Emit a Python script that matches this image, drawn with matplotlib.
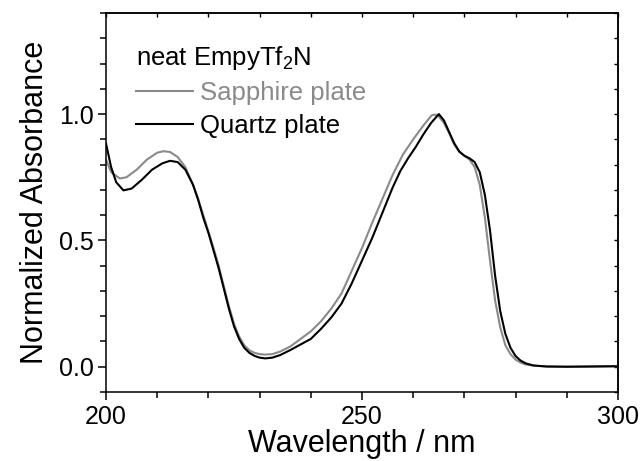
import matplotlib
matplotlib.use("Agg")
import matplotlib.pyplot as plt
from matplotlib.ticker import MultipleLocator

plt.rcParams['font.family'] = ['Liberation Sans', 'DejaVu Sans']
plt.rcParams['mathtext.default'] = 'regular'

# Quartz plate (black)
wl_quartz = [200.0, 201.0, 202.0, 203.4, 205.0, 207.0, 209.0, 211.0, 212.5, 214.0,
             215.5, 217.0, 218.0, 219.0, 220.0, 221.0, 222.0, 223.0, 224.0, 225.0,
             226.0, 227.0, 228.0, 229.0, 230.0, 231.1, 232.5, 234.0, 236.0, 238.0,
             240.0, 242.0, 244.0, 246.0, 248.0, 250.0, 252.0, 254.0, 256.0, 257.5,
             259.0, 260.5, 262.0, 263.5, 265.0, 266.0, 267.0, 268.0, 269.0, 270.0,
             271.0, 272.0, 273.0, 274.0, 275.0, 276.0, 277.0, 278.0, 279.0, 280.0,
             281.0, 282.0, 283.5, 286.0, 290.0, 295.0, 300.0]
abs_quartz = [0.884, 0.79, 0.73, 0.698, 0.705, 0.74, 0.78, 0.805, 0.815, 0.81,
              0.78, 0.72, 0.66, 0.59, 0.53, 0.46, 0.39, 0.31, 0.23, 0.16,
              0.11, 0.075, 0.055, 0.043, 0.036, 0.033, 0.036, 0.046, 0.066, 0.088,
              0.11, 0.15, 0.195, 0.25, 0.33, 0.42, 0.51, 0.61, 0.71, 0.775,
              0.825, 0.87, 0.92, 0.965, 1.0, 0.975, 0.93, 0.885, 0.852, 0.835,
              0.825, 0.81, 0.77, 0.68, 0.54, 0.36, 0.22, 0.13, 0.075, 0.042,
              0.024, 0.013, 0.005, 0.001, 0.0, 0.001, 0.002]

# Sapphire plate (gray)
wl_sapphire = [200.0, 201.0, 202.7, 204.0, 206.0, 208.0, 210.0, 211.2, 212.5, 214.0,
               215.5, 217.0, 218.0, 219.0, 220.0, 221.0, 222.0, 223.0, 224.0, 225.0,
               226.0, 227.0, 228.0, 229.0, 230.0, 231.0, 232.5, 234.0, 236.0, 238.0,
               240.0, 242.0, 244.0, 246.0, 248.0, 250.0, 252.0, 254.0, 256.0, 258.0,
               260.0, 262.0, 263.6, 264.3, 265.0, 266.0, 267.0, 268.0, 269.0, 270.0,
               271.0, 272.0, 273.0, 274.0, 275.0, 276.0, 277.0, 278.0, 279.0, 280.0,
               281.0, 282.0, 283.5, 286.0, 290.0, 295.0, 300.0]
abs_sapphire = [0.82, 0.77, 0.745, 0.75, 0.78, 0.82, 0.847, 0.853, 0.85, 0.83,
                0.79, 0.72, 0.665, 0.60, 0.535, 0.47, 0.40, 0.32, 0.24, 0.17,
                0.12, 0.085, 0.065, 0.055, 0.05, 0.048, 0.05, 0.06, 0.08, 0.11,
                0.14, 0.18, 0.23, 0.29, 0.38, 0.47, 0.57, 0.665, 0.76, 0.84,
                0.90, 0.955, 0.995, 0.998, 0.99, 0.965, 0.925, 0.88, 0.85, 0.835,
                0.82, 0.79, 0.72, 0.59, 0.42, 0.262, 0.156, 0.085, 0.05, 0.028,
                0.016, 0.009, 0.004, 0.001, 0.0, 0.001, 0.002]

legend_title = "neat EmpyTf$_2$N"
labels = ["Sapphire plate", "Quartz plate"]
colors = ["#8a8a8a", "#000000"]

fig = plt.figure(figsize=(6.41, 4.61), dpi=100)
ax = fig.add_axes([106/641, 1 - 392/461, (618-106)/641, (392-13)/461])

ax.plot(wl_sapphire, abs_sapphire, color=colors[0], lw=1.5, label=labels[0])
ax.plot(wl_quartz, abs_quartz, color=colors[1], lw=1.5, label=labels[1])

ax.set_xlim(200, 300)
ax.set_ylim(-0.1, 1.4)
ax.xaxis.set_major_locator(MultipleLocator(50))
ax.xaxis.set_minor_locator(MultipleLocator(10))
ax.yaxis.set_major_locator(MultipleLocator(0.5))
ax.yaxis.set_minor_locator(MultipleLocator(0.1))
ax.tick_params(which='major', direction='out', length=6, width=1.1, labelsize=18, pad=3)
ax.tick_params(which='minor', direction='out', length=4, width=1.1)
for s in ax.spines.values():
    s.set_linewidth(1.1)

top = ax.secondary_xaxis('top')
top.xaxis.set_major_locator(MultipleLocator(50))
top.xaxis.set_minor_locator(MultipleLocator(10))
top.tick_params(which='both', direction='in', length=3, width=1.0, labeltop=False)
right = ax.secondary_yaxis('right')
right.yaxis.set_major_locator(MultipleLocator(0.5))
right.yaxis.set_minor_locator(MultipleLocator(0.1))
right.tick_params(which='both', direction='in', length=3, width=1.0, labelright=False)
top.spines['top'].set_linewidth(1.1)
right.spines['right'].set_linewidth(1.1)

ax.set_xlabel("Wavelength / nm", fontsize=22, labelpad=0)
ax.set_ylabel("Normalized Absorbance", fontsize=22, labelpad=6)

leg = ax.legend(loc='upper left', bbox_to_anchor=(0.0586, 0.918), frameon=False,
                title=legend_title, alignment='left', fontsize=18.5,
                title_fontsize=18.5, handlelength=2.2, handletextpad=0.3,
                labelspacing=0.35, borderaxespad=0.0, borderpad=0.0)
for txt, c in zip(leg.get_texts(), colors):
    txt.set_color(c)

fig.savefig("out.png", dpi=100)
